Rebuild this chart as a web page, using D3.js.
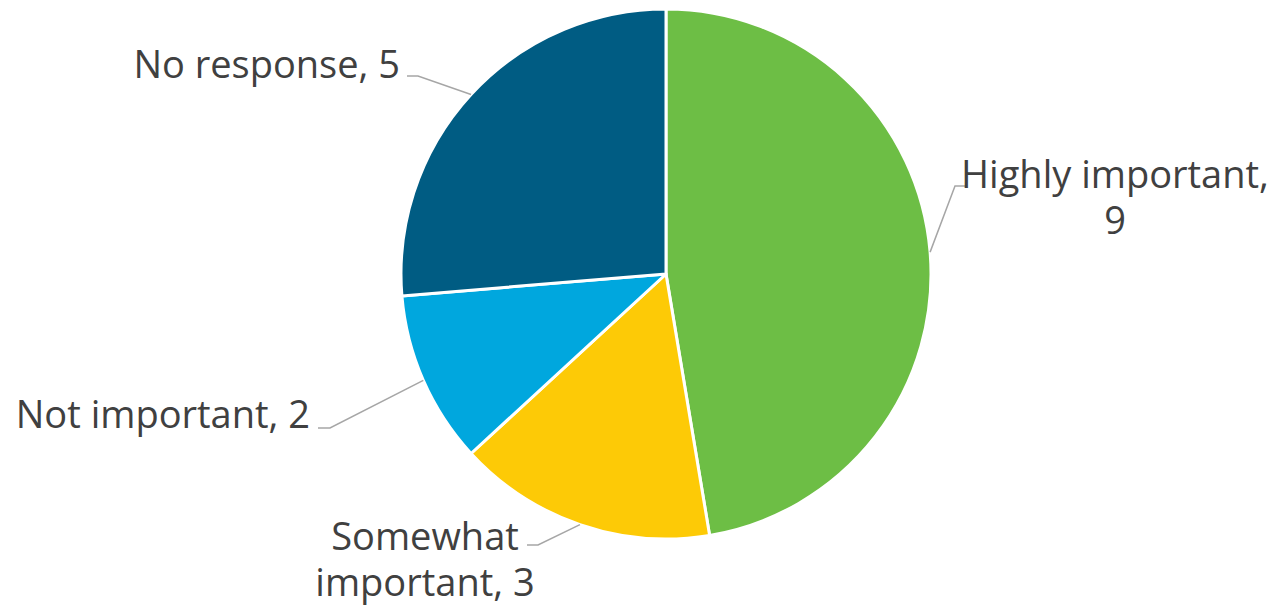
<!DOCTYPE html>
<html>
<head>
<meta charset="utf-8">
<script src="https://cdn.jsdelivr.net/npm/d3@7"></script>
<style>
  body { margin: 0; background: #fff; }
  svg text { font-family: "Open Sans", "Noto Sans", sans-serif; fill: #404040; }
</style>
</head>
<body>
<div id="chart"></div>
<script>
// données du graphique
const categories = ["Highly important", "Somewhat important", "Not important", "No response"];
const values = [9, 3, 2, 5];
const colors = ["#6dbe45", "#fdca06", "#00a7de", "#005c83"];

// placement des étiquettes (lignes de texte, ancre, coude de la ligne de rappel)
const labelLayout = [
    { lines: ["Highly important,", "9"], x: 1115, y: 188, anchor: "middle", elbow: [955, 186], end: [966, 186] },
    { lines: ["Somewhat", "important, 3"], x: 425, y: 550, anchor: "middle", elbow: [538, 545], end: [527, 545] },
    { lines: ["Not important, 2"], x: 310, y: 428, anchor: "end", elbow: [330, 428], end: [318, 428] },
    { lines: ["No response, 5"], x: 400, y: 78, anchor: "end", elbow: [418, 76], end: [407, 76] }
];

const width = 1278, height = 605;
const cx = 666, cy = 274, radius = 265;

const svg = d3.select("#chart").append("svg")
    .attr("width", width)
    .attr("height", height);

const pie = d3.pie().sort(null).value(d => d)(values);
const arc = d3.arc().innerRadius(0).outerRadius(radius);

const g = svg.append("g").attr("transform", `translate(${cx}, ${cy})`);

g.selectAll("path.slice").data(pie).enter().append("path")
    .attr("class", "slice")
    .attr("d", arc)
    .attr("fill", (d, i) => colors[i])
    .attr("stroke", "#fff")
    .attr("stroke-width", 3)
    .attr("stroke-linejoin", "round");

// lignes de rappel
pie.forEach((d, i) => {
    const a = (d.startAngle + d.endAngle) / 2;
    const px = cx + radius * Math.sin(a);
    const py = cy - radius * Math.cos(a);
    const L = labelLayout[i];
    svg.append("polyline")
        .attr("points", [[px, py], L.elbow, L.end].map(p => p.join(",")).join(" "))
        .attr("fill", "none")
        .attr("stroke", "#a6a6a6")
        .attr("stroke-width", 1.5);
});

// étiquettes
labelLayout.forEach((L, i) => {
    const t = svg.append("text")
        .attr("x", L.x)
        .attr("y", L.y)
        .attr("text-anchor", L.anchor)
        .style("font-size", "38px");
    L.lines.forEach((line, j) => {
        t.append("tspan").attr("x", L.x).attr("dy", j === 0 ? 0 : 46).text(line);
    });
});
</script>
</body>
</html>
